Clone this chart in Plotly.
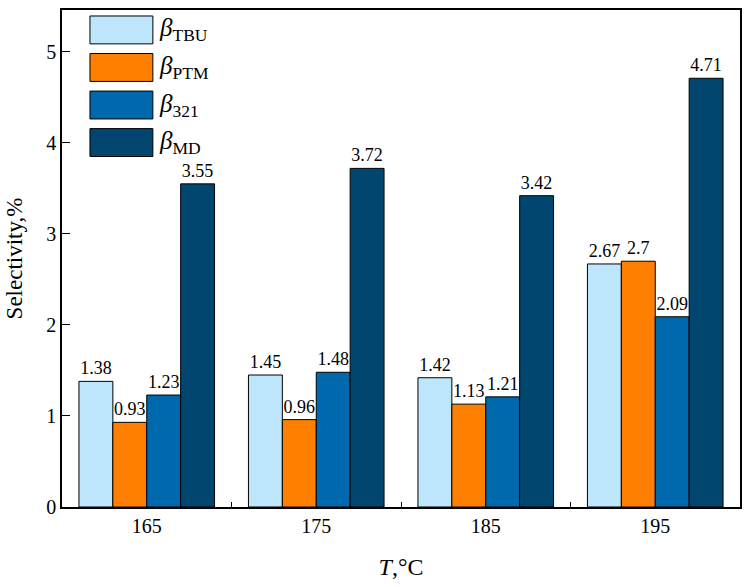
import plotly.graph_objects as go

categories = ["165", "175", "185", "195"]
series_names = ["TBU", "PTM", "321", "MD"]
beta_tbu = [1.38, 1.45, 1.42, 2.67]
beta_ptm = [0.93, 0.96, 1.13, 2.7]
beta_321 = [1.23, 1.48, 1.21, 2.09]
beta_md = [3.55, 3.72, 3.42, 4.71]
colors = ["#BDE5FB", "#FF8000", "#0068AD", "#00466F"]
y_ticks = [0, 1, 2, 3, 4, 5]

values = [beta_tbu, beta_ptm, beta_321, beta_md]
serif = '"Liberation Serif", "Times New Roman", "DejaVu Serif", serif'

fig = go.Figure()
for name, vals, col in zip(series_names, values, colors):
    fig.add_trace(go.Bar(
        x=categories, y=vals, name=name,
        marker=dict(color=col, line=dict(color="black", width=1)),
        text=[f"{v:g}" for v in vals], textposition="outside",
        constraintext="none",
        textfont=dict(family=serif, size=18, color="black"),
        cliponaxis=False, showlegend=False,
    ))

# custom legend (large swatches)
leg_top = 14
leg_step = 37.7
for i, (name, col) in enumerate(zip(series_names, colors)):
    y0 = leg_top + i * leg_step
    fig.add_shape(type="rect", xref="paper", yref="paper",
                  x0=(90 - 62) / 679, x1=(153 - 62) / 679,
                  y0=1 - (y0 + 28 - 8) / 499, y1=1 - (y0 - 8) / 499,
                  fillcolor=col, line=dict(color="black", width=1))
    fig.add_annotation(xref="paper", yref="paper",
                       x=(157 - 62) / 679, y=1 - (y0 + 14 - 8) / 499,
                       xanchor="left", yanchor="middle", showarrow=False,
                       text=f"<i>β</i><sub>{name}</sub>",
                       font=dict(family=serif, size=25, color="black"))

fig.update_layout(
    width=750, height=587,
    margin=dict(l=62, r=9, t=8, b=80),
    paper_bgcolor="white", plot_bgcolor="white",
    barmode="group", bargap=0.2, bargroupgap=0,
    font=dict(family=serif, color="black"),
)
fig.update_xaxes(
    type="category", range=[-0.5, 3.5],
    showline=True, linecolor="black", linewidth=1.5, mirror=True,
    ticks="inside", tickson="boundaries", ticklen=5, tickcolor="black",
    tickfont=dict(family=serif, size=20, color="black"),
    title=dict(text="<i>T</i>,°C", font=dict(family=serif, size=24, color="black"), standoff=22),
    showgrid=False,
)
fig.update_yaxes(
    range=[0, 5.46], tickvals=y_ticks,
    showline=True, linecolor="black", linewidth=1.5, mirror=True,
    ticks="inside", ticklen=8, tickcolor="black",
    tickfont=dict(family=serif, size=20, color="black"),
    title=dict(text="Selectivity,%", font=dict(family=serif, size=23, color="black"), standoff=17),
    showgrid=False, zeroline=False,
)

fig.write_html("out.html")
